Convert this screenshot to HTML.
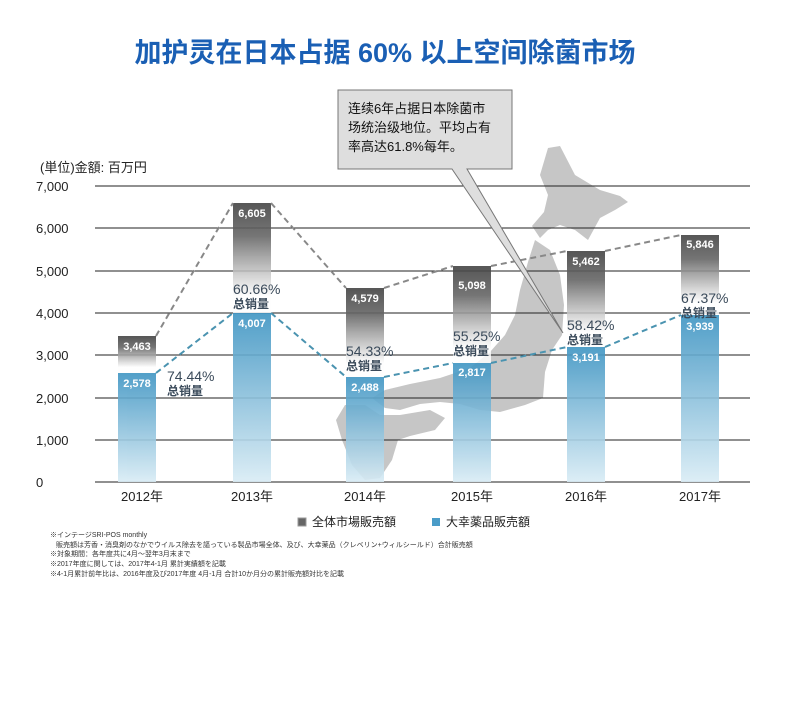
<!DOCTYPE html>
<html><head><meta charset="utf-8"><style>
html,body{margin:0;padding:0;background:#fff;}
body{width:790px;height:701px;overflow:hidden;font-family:"Liberation Sans","Noto Sans CJK SC",sans-serif;}
</style></head><body>
<svg width="790" height="701" viewBox="0 0 790 701" xmlns="http://www.w3.org/2000/svg" font-family="Liberation Sans, Noto Sans CJK SC, sans-serif">
<defs>
<linearGradient id="gg" x1="0" y1="0" x2="0" y2="1"><stop offset="0" stop-color="#444"/><stop offset="0.3" stop-color="#666"/><stop offset="0.85" stop-color="#ffffff" stop-opacity="0.9"/><stop offset="1" stop-color="#ffffff" stop-opacity="0.9"/></linearGradient>
<linearGradient id="bg" x1="0" y1="0" x2="0" y2="1"><stop offset="0" stop-color="#3f95c3"/><stop offset="1" stop-color="#d9ecf5"/></linearGradient>
</defs>
<text x="385" y="62" text-anchor="middle" font-size="27" font-weight="bold" fill="#1a5fb4">加护灵在日本占据 60% 以上空间除菌市场</text>
<!-- map -->
<g fill="#c6c6c6">
<path d="M548,148 L560,146 L575,175 L600,190 L620,196 L628,202 L615,210 L600,218 L588,240 L575,230 L560,225 L548,230 L540,238 L532,226 L544,212 L548,195 L540,175 Z"/>
<path d="M535,240 L550,250 L560,275 L564,305 L562,335 L552,350 L545,372 L543,398 L525,405 L500,412 L480,410 L460,404 L440,402 L420,404 L400,410 L385,408 L372,398 L385,390 L410,384 L440,378 L470,368 L490,352 L505,335 L515,315 L520,290 L528,262 Z"/>
<path d="M345,405 L365,405 L380,415 L400,415 L430,410 L445,418 L435,430 L410,436 L398,440 L392,460 L380,478 L365,480 L352,465 L342,440 L336,420 Z"/>
</g>
<!-- grid -->
<g stroke="#222" stroke-width="1">
<line x1="95" y1="186" x2="750" y2="186"/><line x1="95" y1="228" x2="750" y2="228"/><line x1="95" y1="271" x2="750" y2="271"/><line x1="95" y1="313" x2="750" y2="313"/><line x1="95" y1="355" x2="750" y2="355"/><line x1="95" y1="398" x2="750" y2="398"/><line x1="95" y1="440" x2="750" y2="440"/><line x1="95" y1="482" x2="750" y2="482"/>
</g>
<g font-size="13" fill="#222">
<text x="40" y="172">(単位)金額: 百万円</text>
<text x="36" y="191">7,000</text><text x="36" y="233">6,000</text><text x="36" y="276">5,000</text><text x="36" y="318">4,000</text><text x="36" y="360">3,000</text><text x="36" y="403">2,000</text><text x="36" y="445">1,000</text><text x="36" y="487">0</text>
</g>
<g font-size="13" fill="#222" text-anchor="middle">
<text x="142" y="501">2012年</text><text x="252" y="501">2013年</text><text x="365" y="501">2014年</text><text x="472" y="501">2015年</text><text x="586" y="501">2016年</text><text x="700" y="501">2017年</text>
</g>
<!-- bars -->
<g opacity="0.9">
<rect x="118" y="336" width="38" height="37" fill="url(#gg)"/><rect x="118" y="373" width="38" height="109" fill="url(#bg)"/>
<rect x="233" y="203" width="38" height="110" fill="url(#gg)"/><rect x="233" y="313" width="38" height="169" fill="url(#bg)"/>
<rect x="346" y="288" width="38" height="89" fill="url(#gg)"/><rect x="346" y="377" width="38" height="105" fill="url(#bg)"/>
<rect x="453" y="266" width="38" height="97" fill="url(#gg)"/><rect x="453" y="363" width="38" height="119" fill="url(#bg)"/>
<rect x="567" y="251" width="38" height="96" fill="url(#gg)"/><rect x="567" y="347" width="38" height="135" fill="url(#bg)"/>
<rect x="681" y="235" width="38" height="80" fill="url(#gg)"/><rect x="681" y="315" width="38" height="167" fill="url(#bg)"/>
</g>
<g stroke="#888" stroke-width="2" stroke-dasharray="6,4" fill="none">
<polyline points="156,336 233,203"/><polyline points="271,203 346,288"/><polyline points="384,288 453,266"/><polyline points="491,266 567,251"/><polyline points="605,251 681,235"/>
</g>
<g stroke="#4a93b0" stroke-width="2" stroke-dasharray="6,4" fill="none">
<polyline points="156,373 233,313"/><polyline points="271,313 346,377"/><polyline points="384,377 453,363"/><polyline points="491,363 567,347"/><polyline points="605,347 681,315"/>
</g>
<g font-size="11" font-weight="bold" fill="#fff" text-anchor="middle">
<text x="137" y="350">3,463</text><text x="137" y="387">2,578</text>
<text x="252" y="217">6,605</text><text x="252" y="327">4,007</text>
<text x="365" y="302">4,579</text><text x="365" y="391">2,488</text>
<text x="472" y="289">5,098</text><text x="472" y="376">2,817</text>
<text x="586" y="265">5,462</text><text x="586" y="361">3,191</text>
<text x="700" y="248">5,846</text><text x="700" y="330">3,939</text>
</g>
<g fill="#3a4a5a">
<text x="167" y="381" font-size="14">74.44%</text><text x="167" y="395" font-size="12" font-weight="bold">总销量</text>
<text x="233" y="294" font-size="14">60.66%</text><text x="233" y="308" font-size="12" font-weight="bold">总销量</text>
<text x="346" y="356" font-size="14">54.33%</text><text x="346" y="370" font-size="12" font-weight="bold">总销量</text>
<text x="453" y="341" font-size="14">55.25%</text><text x="453" y="355" font-size="12" font-weight="bold">总销量</text>
<text x="567" y="330" font-size="14">58.42%</text><text x="567" y="344" font-size="12" font-weight="bold">总销量</text>
<text x="681" y="303" font-size="14">67.37%</text><text x="681" y="317" font-size="12" font-weight="bold">总销量</text>
</g>
<!-- callout -->
<path d="M338,90 L512,90 L512,169 L467,169 L563,333 L452,169 L338,169 Z" fill="#dedede" stroke="#777" stroke-width="1"/>
<g font-size="13" fill="#111"><text x="348" y="113">连续6年占据日本除菌市</text><text x="348" y="132">场统治级地位。平均占有</text><text x="348" y="151">率高达61.8%每年。</text></g>
<!-- legend -->
<rect x="298" y="518" width="8" height="8" fill="#666" stroke="#999"/>
<text x="312" y="526" font-size="12" fill="#222">全体市場販売額</text>
<rect x="432" y="518" width="8" height="8" fill="#4a9cc8"/>
<text x="446" y="526" font-size="12" fill="#222">大幸薬品販売額</text>
<g font-size="7" fill="#333">
<text x="50" y="537">※インテージSRI-POS monthly</text>
<text x="56" y="547">販売額は芳香・消臭剤のなかでウイルス除去を謳っている製品市場全体、及び、大幸薬品（クレベリン+ウィルシールド）合計販売額</text>
<text x="50" y="556">※対象期間：各年度共に4月～翌年3月末まで</text>
<text x="50" y="566">※2017年度に関しては、2017年4-1月 累計実績額を記載</text>
<text x="50" y="576">※4-1月累計前年比は、2016年度及び2017年度 4月-1月 合計10か月分の累計販売額対比を記載</text>
</g>
</svg>
</body></html>
